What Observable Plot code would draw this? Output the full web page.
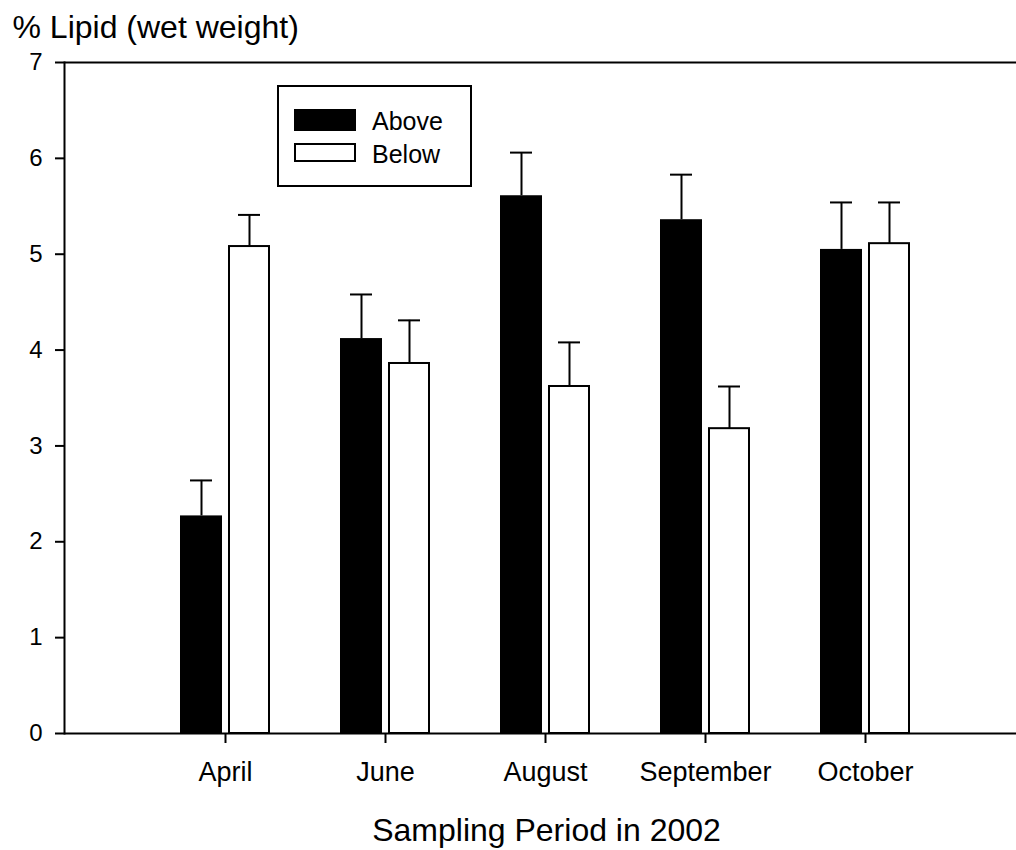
<!DOCTYPE html>
<html><head><meta charset="utf-8">
<script src="https://cdn.jsdelivr.net/npm/d3@7"></script>
<script src="https://cdn.jsdelivr.net/npm/@observablehq/plot@0.6"></script>
<style>
body{margin:0;background:#fff;font-family:"Liberation Sans",Arial,sans-serif;}
#wrap{position:relative;width:1016px;height:850px;}
.legend{position:absolute;left:277px;top:85px;width:195px;height:102px;border:2px solid #000;box-sizing:border-box;background:#fff;}
.sw{position:absolute;left:15px;width:62px;box-sizing:border-box;}
.lt{position:absolute;left:93px;font-size:25px;line-height:25px;color:#000;}
</style></head><body><div id="wrap"></div><script>
const months = ["April", "June", "August", "September", "October"];
const above = [2.27, 4.12, 5.61, 5.36, 5.05];
const aboveErr = [0.37, 0.46, 0.45, 0.47, 0.49];
const below = [5.08, 3.86, 3.62, 3.18, 5.11];
const belowErr = [0.33, 0.45, 0.46, 0.44, 0.43];
const yTicks = [0, 1, 2, 3, 4, 5, 6, 7];
const seriesNames = ["Above", "Below"];
const yTitle = "% Lipid (wet weight)";
const xTitle = "Sampling Period in 2002";

const aboveData = months.map((m, i) => ({month: m, value: above[i], upper: above[i] + aboveErr[i]}));
const belowData = months.map((m, i) => ({month: m, value: below[i], upper: below[i] + belowErr[i]}));

const chart = Plot.plot({
  width: 1016, height: 850,
  marginTop: 62, marginBottom: 117, marginLeft: 64, marginRight: 0,
  style: {fontFamily: "Liberation Sans, Arial, sans-serif", color: "#000", background: "#fff", overflow: "visible"},
  x: {type: "band", domain: months, paddingInner: 0, paddingOuter: 0.475, align: 0.533},
  y: {domain: [0, 7]},
  marks: [
    Plot.barY(aboveData, {x: "month", y: "value", fill: "#000", insetLeft: 35, insetRight: 83}),
    Plot.barY(belowData, {x: "month", y: "value", fill: "#fff", stroke: "#000", strokeWidth: 2, insetLeft: 84, insetRight: 36}),
    Plot.ruleX(aboveData, {x: "month", y1: "value", y2: "upper", dx: -24, stroke: "#000", strokeWidth: 2}),
    Plot.ruleX(belowData, {x: "month", y1: "value", y2: "upper", dx: 24, stroke: "#000", strokeWidth: 2}),
    Plot.tickY(aboveData, {x: "month", y: "upper", insetLeft: 45, insetRight: 93, stroke: "#000", strokeWidth: 2}),
    Plot.tickY(belowData, {x: "month", y: "upper", insetLeft: 93, insetRight: 45, stroke: "#000", strokeWidth: 2}),
    Plot.ruleY([0], {stroke: "#000", strokeWidth: 2}),
    Plot.ruleY([7], {stroke: "#000", strokeWidth: 2}),
    Plot.frame({anchor: "left", stroke: "#000", strokeWidth: 2}),
    Plot.axisY({ticks: yTicks, tickFormat: "d", tickSize: 9, tickPadding: 13, fontSize: 24, strokeWidth: 2, label: null}),
    Plot.axisX({tickSize: 10, tickPadding: 18, fontSize: 27, strokeWidth: 2, label: null}),
    Plot.text([yTitle], {frameAnchor: "top-left", dx: -52, dy: -25, textAnchor: "start", lineAnchor: "bottom", fontSize: 32}),
    Plot.text([xTitle], {frameAnchor: "bottom", dx: 6, dy: 107, lineAnchor: "bottom", fontSize: 32})
  ]
});
const wrap = document.getElementById("wrap");
wrap.appendChild(chart);

const legend = document.createElement("div");
legend.className = "legend";
legend.innerHTML =
  `<div class="sw" style="top:22px;height:22px;background:#000"></div>` +
  `<div class="sw" style="top:56px;height:19px;border:2px solid #000;background:#fff"></div>` +
  `<div class="lt" style="top:22px">${seriesNames[0]}</div>` +
  `<div class="lt" style="top:55px">${seriesNames[1]}</div>`;
wrap.appendChild(legend);
</script></body></html>
